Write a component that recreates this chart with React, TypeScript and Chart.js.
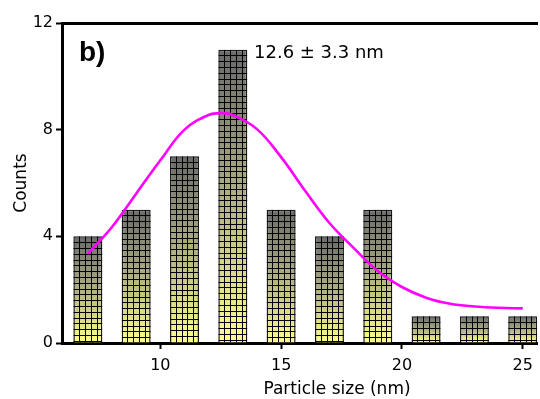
import React, { useEffect, useRef } from "react";
import { Chart, registerables } from "chart.js";

Chart.register(...registerables);

// ---- data ----
const binCenters = [7, 9, 11, 13, 15, 17, 19, 21, 23, 25];
const binCounts = [4, 5, 7, 11, 5, 4, 5, 1, 1, 1];
const fitX = [7, 8, 9, 10, 11, 12, 12.6, 13, 14, 15, 16, 17, 18, 19, 20, 21, 22, 23, 24, 25];
const fitY = [3.35, 4.35, 5.6, 6.85, 8.0, 8.55, 8.62, 8.55, 8.02, 6.97, 5.7, 4.5, 3.57, 2.7, 2.1, 1.7, 1.47, 1.37, 1.32, 1.3];
const xTicks = [10, 15, 20, 25];
const yTicks = [0, 4, 8, 12];
const xRange = [5.93, 25.6];
const yRange = [0, 12];
const xTitle = "Particle size (nm)";
const yTitle = "Counts";
const panelLabel = "b)";
const fitLabel = "12.6 ± 3.3 nm";

const FONT = '"DejaVu Sans", "Liberation Sans", Arial, sans-serif';

const barGridPlugin = {
  id: "barGrid",
  afterDatasetDraw(chart: any, args: any) {
    if (args.index !== 0) return;
    const c = chart.ctx;
    args.meta.data.forEach((el: any) => {
      const { x, y, base, width } = el.getProps(["x", "y", "base", "width"], true);
      const left = x - width / 2;
      const right = x + width / 2;
      const cell = width / 5;
      c.save();
      c.beginPath();
      c.rect(left, y, width, base - y);
      c.clip();
      c.strokeStyle = "#000";
      c.lineWidth = 1;
      c.beginPath();
      for (let k = 1; k < 5; k++) {
        const px = Math.round(left + k * cell) + 0.5;
        c.moveTo(px, y);
        c.lineTo(px, base);
      }
      for (let py = y + cell; py < base - 1; py += cell) {
        const yy = Math.round(py) + 0.5;
        c.moveTo(left, yy);
        c.lineTo(right, yy);
      }
      c.stroke();
      c.restore();
    });
  },
};

const textPlugin = {
  id: "annotText",
  afterDraw(chart: any) {
    const c = chart.ctx;
    const a = chart.chartArea;
    c.save();
    c.fillStyle = "#000";
    // y title
    c.font = `17px ${FONT}`;
    c.textAlign = "center";
    c.textBaseline = "middle";
    c.save();
    c.translate(a.left - 40, (a.top + a.bottom) / 2);
    c.rotate(-Math.PI / 2);
    c.fillText(yTitle, 0, 0);
    c.restore();
    // x title
    c.fillText(xTitle, a.left + 275, a.bottom + 47);
    // panel label
    c.font = `bold 28px "Liberation Sans", Arial, sans-serif`;
    c.textAlign = "left";
    c.textBaseline = "alphabetic";
    c.fillText(panelLabel, a.left + 17, a.top + 38);
    // fit label
    c.font = `18px ${FONT}`;
    c.fillText(fitLabel, a.left + 192, a.top + 35);
    c.restore();
  },
};

export default function App() {
  const ref = useRef<HTMLCanvasElement | null>(null);

  useEffect(() => {
    if (!ref.current) return;
    const chart = new Chart(ref.current, {
      type: "bar",
      data: {
        datasets: [
          {
            type: "bar",
            label: "Counts",
            data: binCenters.map((x, i) => ({ x, y: binCounts[i] })),
            backgroundColor: (ctx: any) => {
              const ch = ctx.chart;
              const ys = ch.scales && ch.scales.y;
              if (!ys || ctx.type !== "data" || !ctx.parsed) return "#aaa";
              const top = ys.getPixelForValue(ctx.parsed.y);
              const base = ys.getPixelForValue(0);
              if (!isFinite(top) || !isFinite(base) || top === base) return "#aaa";
              const g = ch.ctx.createLinearGradient(0, top, 0, base);
              g.addColorStop(0, "#6a6a6a");
              g.addColorStop(0.45, "#a8a880");
              g.addColorStop(1, "#ffff8c");
              return g;
            },
            borderColor: "#1a1a1a",
            borderWidth: 1.5,
            categoryPercentage: 0.6,
            barPercentage: 1,
            order: 2,
          } as any,
          {
            type: "line",
            label: "Fit",
            data: fitX.map((x, i) => ({ x, y: fitY[i] })),
            borderColor: "#ff00ff",
            borderWidth: 2.6,
            pointRadius: 0,
            tension: 0.4,
            fill: false,
            order: 1,
          } as any,
        ],
      },
      options: {
        animation: false,
        responsive: false,
        events: [],
        layout: { padding: 0 },
        plugins: { legend: { display: false }, tooltip: { enabled: false }, title: { display: false } },
        scales: {
          x: {
            type: "linear",
            position: "bottom",
            min: xRange[0],
            max: xRange[1],
            offset: false,
            afterBuildTicks: (s: any) => {
              s.ticks = xTicks.map((v) => ({ value: v }));
            },
            afterFit: (s: any) => {
              s.height = 56;
            },
            border: { display: true, color: "#000", width: 3 },
            grid: { display: true, offset: false, drawOnChartArea: false, drawTicks: true, tickLength: 6, tickWidth: 2, tickColor: "#000" },
            ticks: { color: "#000", font: { family: FONT, size: 16 }, padding: 7, maxRotation: 0, autoSkip: false },
          },
          xTop: {
            type: "linear",
            position: "top",
            min: xRange[0],
            max: xRange[1],
            offset: false,
            afterFit: (s: any) => {
              s.height = 23;
            },
            border: { display: true, color: "#000", width: 3 },
            grid: { display: false },
            ticks: { display: false },
          },
          y: {
            type: "linear",
            position: "left",
            min: yRange[0],
            max: yRange[1],
            afterBuildTicks: (s: any) => {
              s.ticks = yTicks.map((v) => ({ value: v }));
            },
            afterFit: (s: any) => {
              s.width = 62;
            },
            border: { display: true, color: "#000", width: 3 },
            grid: { display: true, drawOnChartArea: false, drawTicks: true, tickLength: 6, tickWidth: 2, tickColor: "#000" },
            ticks: { color: "#000", font: { family: FONT, size: 16 }, padding: 3 },
          },
        },
      } as any,
      plugins: [barGridPlugin, textPlugin],
    });
    return () => chart.destroy();
  }, []);

  return (
    <div style={{ position: "absolute", left: 0, top: 0, width: 540, height: 399, overflow: "hidden", background: "#fff" }}>
      <canvas ref={ref} width={540} height={399} style={{ display: "block", width: 540, height: 399 }} />
    </div>
  );
}
